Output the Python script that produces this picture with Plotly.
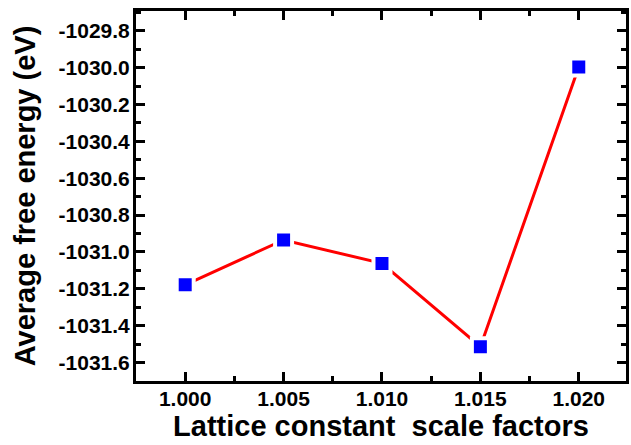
import plotly.graph_objects as go

scale_factors = [1.000, 1.005, 1.010, 1.015, 1.020]
free_energy = [-1031.178, -1030.935, -1031.062, -1031.514, -1029.997]

x_tickvals = [1.000, 1.005, 1.010, 1.015, 1.020]
x_ticktext = ["1.000", "1.005", "1.010", "1.015", "1.020"]
y_tickvals = [-1031.6, -1031.4, -1031.2, -1031.0, -1030.8, -1030.6, -1030.4, -1030.2, -1030.0, -1029.8]
y_ticktext = ["-1031.6", "-1031.4", "-1031.2", "-1031.0", "-1030.8", "-1030.6", "-1030.4", "-1030.2", "-1030.0", "-1029.8"]

font_family = "Liberation Sans, Arial, sans-serif"

fig = go.Figure()
fig.add_trace(go.Scatter(
    x=scale_factors, y=free_energy, mode="lines+markers",
    line=dict(color="#ff0000", width=3),
    marker=dict(symbol="square", size=17, color="#0000ff",
                line=dict(color="white", width=4)),
    showlegend=False,
))

axis_common = dict(
    showline=True, linecolor="black", linewidth=3, mirror="allticks",
    ticks="inside", ticklen=9, tickwidth=3, tickcolor="black",
    showgrid=False, zeroline=False,
    tickfont=dict(family=font_family, size=21, color="black", weight="bold"),
)

fig.update_xaxes(
    range=[0.9975, 1.0224], tickvals=x_tickvals, ticktext=x_ticktext,
    minor=dict(ticks="inside", ticklen=5, tickwidth=3, tickcolor="black", dtick=0.0025, tick0=1.0),
    ticklabelstandoff=-3,
    title=dict(text="Lattice constant\u00a0 scale factors",
               font=dict(family=font_family, size=29, color="black", weight="bold"), standoff=2),
    **axis_common,
)
fig.update_yaxes(
    range=[-1031.7, -1029.693], tickvals=y_tickvals, ticktext=y_ticktext,
    minor=dict(ticks="inside", ticklen=5, tickwidth=3, tickcolor="black", dtick=0.1, tick0=-1031.6),
    ticklabelstandoff=-1,
    title=dict(text="Average free energy (eV)",
               font=dict(family=font_family, size=29, color="black", weight="bold"), standoff=15),
    **axis_common,
)

fig.update_layout(
    width=631, height=445,
    margin=dict(l=136, r=2, t=11, b=64),
    plot_bgcolor="white", paper_bgcolor="white",
)

fig.write_html("out.html")
